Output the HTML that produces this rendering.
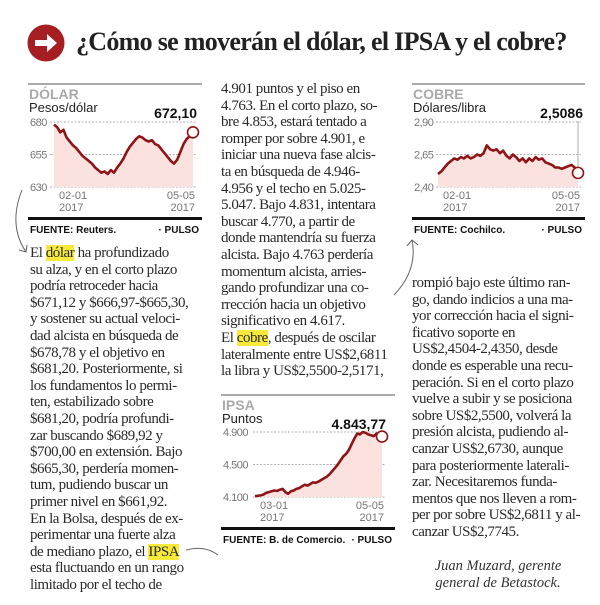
<!DOCTYPE html>
<html><head><meta charset="utf-8">
<style>
body{margin:0;width:600px;height:605px;background:#fff;overflow:hidden;position:relative;font-family:"Liberation Serif",serif;color:#222}
.col{position:absolute;font-size:15px;line-height:16.6px;white-space:nowrap;letter-spacing:-0.45px;color:#2a2a2a}
.hl{background:#f7ea3a}
svg text{font-family:"Liberation Sans",sans-serif}
</style></head><body>
<svg style="position:absolute;left:27px;top:24px" width="38" height="38" viewBox="0 0 38 38">
<circle cx="19" cy="19" r="18.5" fill="#a51e22"/>
<path d="M8 16h12v-6l10 9-10 9v-6H8z" fill="#fff"/>
</svg>
<div style="position:absolute;left:76px;top:27px;font-size:26px;font-weight:bold;letter-spacing:-0.7px;white-space:nowrap;color:#222">¿Cómo se moverán el dólar, el IPSA y el cobre?</div>

<svg id="charts" style="position:absolute;left:0;top:0" width="600" height="605"></svg>

<div class="col" style="left:30px;top:245px">
<div>El <span class="hl">dólar</span> ha profundizado</div><div>su alza, y en el corto plazo</div><div>podría retroceder hacia</div><div>$671,12 y $666,97-$665,30,</div><div>y sostener su actual veloci-</div><div>dad alcista en búsqueda de</div><div>$678,78 y el objetivo en</div><div>$681,20. Posteriormente, si</div><div>los fundamentos lo permi-</div><div>ten, estabilizado sobre</div><div>$681,20, podría profundi-</div><div>zar buscando $689,92 y</div><div>$700,00 en extensión. Bajo</div><div>$665,30, perdería momen-</div><div>tum, pudiendo buscar un</div><div>primer nivel en $661,92.</div><div>En la Bolsa, después de ex-</div><div>perimentar una fuerte alza</div><div>de mediano plazo, el <span class="hl">IPSA</span></div><div>esta fluctuando en un rango</div><div>limitado por el techo de</div>
</div>
<div class="col" style="left:221px;top:81px">
<div>4.901 puntos y el piso en</div><div>4.763. En el corto plazo, so-</div><div>bre 4.853, estará tentado a</div><div>romper por sobre 4.901, e</div><div>iniciar una nueva fase alcis-</div><div>ta en búsqueda de 4.946-</div><div>4.956 y el techo en 5.025-</div><div>5.047. Bajo 4.831, intentara</div><div>buscar 4.770, a partir de</div><div>donde mantendría su fuerza</div><div>alcista. Bajo 4.763 perdería</div><div>momentum alcista, arries-</div><div>gando profundizar una co-</div><div>rrección hacia un objetivo</div><div>significativo en 4.617.</div><div>El <span class="hl">cobre</span>, después de oscilar</div><div>lateralmente entre US$2,6811</div><div>la libra y US$2,5500-2,5171,</div>
</div>
<div class="col" style="left:412px;top:275px">
<div>rompió bajo este último ran-</div><div>go, dando indicios a una ma-</div><div>yor corrección hacia el signi-</div><div>ficativo soporte en</div><div>US$2,4504-2,4350, desde</div><div>donde es esperable una recu-</div><div>peración. Si en el corto plazo</div><div>vuelve a subir y se posiciona</div><div>sobre US$2,5500, volverá la</div><div>presión alcista, pudiendo al-</div><div>canzar US$2,6730, aunque</div><div>para posteriormente laterali-</div><div>zar. Necesitaremos funda-</div><div>mentos que nos lleven a rom-</div><div>per por sobre US$2,6811 y al-</div><div>canzar US$2,7745.</div>
</div>
<div style="position:absolute;left:412px;width:172px;top:558px;text-align:center;font-style:italic;font-size:14.5px;line-height:17px;color:#333">Juan Muzard, gerente<br>general de Betastock.</div>

<svg style="position:absolute;left:0;top:0" width="600" height="605" fill="none" stroke="#666" stroke-width="1">
<path d="M22 190 Q8 225 26 252"/><path d="M19 250 L26 252 L27 245"/>
<path d="M186 550 Q205 545 218 555"/>
<path d="M394 295 Q418 270 412 240"/><path d="M407 246 L412 240 L418 245"/>
</svg>

<script>
const dolarValues=[678,676,672,674,668,665,662,660,657,654,652,650,648,645,643,641,642,640,643,641,645,648,652,657,661,664,667,669,668,666,665,666,663,662,659,656,653,650,648,651,657,663,667,669,672.1];
const dolarTicks=[630,655,680];
const dolarTickLabels=["630","655","680"];
const dolarDates=["02-01","05-05"];
const cobreValues=[2.50,2.52,2.55,2.58,2.60,2.62,2.61,2.63,2.62,2.64,2.62,2.63,2.65,2.64,2.66,2.72,2.69,2.68,2.69,2.66,2.68,2.64,2.62,2.65,2.63,2.60,2.62,2.59,2.62,2.60,2.63,2.61,2.62,2.59,2.58,2.57,2.55,2.55,2.54,2.55,2.56,2.57,2.55,2.5086];
const cobreTicks=[2.40,2.65,2.90];
const cobreTickLabels=["2,40","2,65","2,90"];
const cobreDates=["02-01","05-05"];
const ipsaValues=[4110,4115,4120,4130,4150,4160,4170,4180,4175,4190,4200,4160,4140,4170,4180,4200,4210,4230,4250,4240,4260,4280,4275,4290,4310,4330,4350,4380,4420,4460,4500,4550,4600,4630,4680,4750,4820,4880,4870,4900,4890,4870,4860,4850,4880,4820,4843.77];
const ipsaTicks=[4100,4500,4900];
const ipsaTickLabels=["4.100","4.500","4.900"];
const ipsaDates=["03-01","05-05"];

const NS="http://www.w3.org/2000/svg";
const root=document.getElementById('charts');
function mk(tag,attrs,txt){const e=document.createElementNS(NS,tag);for(const k in attrs)e.setAttribute(k,attrs[k]);if(txt!==undefined)e.textContent=txt;root.appendChild(e);return e;}

function chart(c,values,ticks,tickLabels,dates){
  const y=v=>c.yBot-(v-ticks[0])/(ticks[2]-ticks[0])*(c.yBot-c.yTop);
  const x=i=>c.x0+i/(values.length-1)*(c.x1-c.x0);
  let e=mk('line',{x1:c.l,x2:c.r,y1:c.top,y2:c.top,stroke:'#555','stroke-width':1});
  
  e=mk('text',{x:c.l+1,y:c.top+15,'font-size':14,'font-weight':'bold',fill:'#aaa'},c.title);
  
  e=mk('text',{x:c.l+1,y:c.top+28,'font-size':13,fill:'#222'},c.unit);
  
  ticks.forEach((t,i)=>{
    let g=mk('line',{x1:c.gx,x2:c.x1+3,y1:y(t),y2:y(t),stroke:'#999','stroke-width':0.8,'stroke-dasharray':'2,1.5'});
    
    let l=mk('text',{x:c.l+2,y:y(t)+4,'font-size':11,fill:'#777','letter-spacing':'-0.5'},tickLabels[i]);
    
  });
  let pts=values.map((v,i)=>x(i).toFixed(1)+','+y(v).toFixed(1));
  e=mk('path',{d:'M'+x(0)+','+c.yBot+' L'+pts.join(' L')+' L'+x(values.length-1)+','+c.yBot+'Z',fill:'#fbe2de'});
  
  e=mk('path',{d:'M'+pts.join(' L'),fill:'none',stroke:'#8e1418','stroke-width':2.6,'stroke-linejoin':'round'});
  
  const lx=x(values.length-1),ly=y(values[values.length-1]);
  if(c.leader){
    e=mk('line',{x1:lx,x2:lx,y1:c.top+37,y2:ly,stroke:'#999','stroke-width':0.8});
    
  }
  e=mk('circle',{cx:lx,cy:ly,r:5.5,fill:'#fff',stroke:'#8e1418','stroke-width':1.6});
  
  e=mk('text',{x:c.vx,y:c.top+34,'font-size':14,'font-weight':'bold','text-anchor':'end',fill:'#111'},c.value);
  
  [[x(0)+5,'start',0],[c.x1+2,'end',1]].forEach(([dx,a,i])=>{
    let d=mk('text',{x:dx,y:c.yBot+12,'font-size':11,fill:'#777','text-anchor':a},dates[i]);
    
    d=mk('text',{x:dx,y:c.yBot+24,'font-size':11,fill:'#777','text-anchor':a},'2017');
    
  });
  e=mk('rect',{x:c.l,y:c.yBot+30,width:c.r-c.l,height:3,fill:'#111'});
  
  e=mk('text',{x:c.l+2,y:c.yBot+46,'font-size':10,'font-weight':'bold',fill:'#111'},c.source);
  
  e=mk('text',{x:c.r-3,y:c.yBot+46,'font-size':10,'font-weight':'bold','text-anchor':'end',fill:'#111'},'· PULSO');
  
}
chart({id:'dolar',title:'DÓLAR',unit:'Pesos/dólar',value:'672,10',source:'FUENTE: Reuters.',l:28,r:202,top:84,gx:50,x0:54,x1:193,yTop:122,yBot:187,vx:197,leader:false},dolarValues,dolarTicks,dolarTickLabels,dolarDates);
chart({id:'cobre',title:'COBRE',unit:'Dólares/libra',value:'2,5086',source:'FUENTE: Cochilco.',l:412,r:585,top:84,gx:436,x0:438,x1:578,yTop:122,yBot:187,vx:583,leader:true},cobreValues,cobreTicks,cobreTickLabels,cobreDates);
chart({id:'ipsa',title:'IPSA',unit:'Puntos',value:'4.843,77',source:'FUENTE: B. de Comercio.',l:221,r:395,top:395,gx:253,x0:255,x1:382,yTop:432,yBot:497,vx:386,leader:false},ipsaValues,ipsaTicks,ipsaTickLabels,ipsaDates);
</script>
</body></html>
